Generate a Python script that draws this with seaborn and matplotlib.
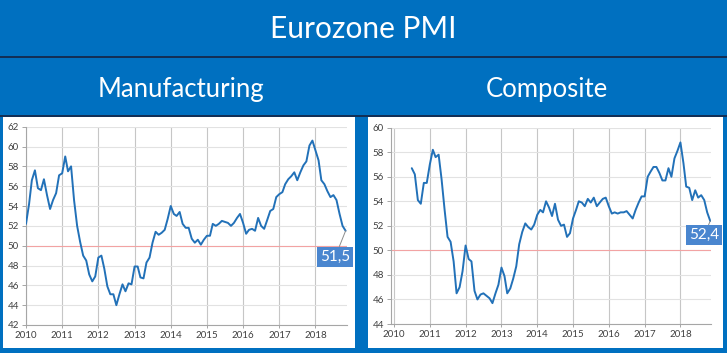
import pandas as pd
import numpy as np
import matplotlib
matplotlib.use("Agg")
import matplotlib.pyplot as plt
import matplotlib.dates as mdates
from matplotlib.patches import Rectangle
from matplotlib.lines import Line2D
import seaborn as sns

#--------------------------------------------------------
# Data (monthly PMI readings)
#--------------------------------------------------------

manuf_start = "2010-01-01"
manufacturing = [
    52.2, 54.2, 56.6, 57.6, 55.8, 55.6, 56.7, 55.1, 53.7, 54.6, 55.3, 57.1,   # 2010
    57.3, 59.0, 57.5, 58.0, 54.6, 52.0, 50.4, 49.0, 48.5, 47.1, 46.4, 46.9,   # 2011
    48.8, 49.0, 47.7, 45.9, 45.1, 45.1, 44.0, 45.1, 46.1, 45.4, 46.2, 46.1,   # 2012
    47.9, 47.9, 46.8, 46.7, 48.3, 48.8, 50.3, 51.4, 51.1, 51.3, 51.6, 52.7,   # 2013
    54.0, 53.2, 53.0, 53.4, 52.2, 51.8, 51.8, 50.7, 50.3, 50.6, 50.1, 50.6,   # 2014
    51.0, 51.0, 52.2, 52.0, 52.2, 52.5, 52.4, 52.3, 52.0, 52.3, 52.8, 53.2,   # 2015
    52.3, 51.2, 51.6, 51.7, 51.5, 52.8, 52.0, 51.7, 52.6, 53.5, 53.7, 54.9,   # 2016
    55.2, 55.4, 56.2, 56.7, 57.0, 57.4, 56.6, 57.4, 58.1, 58.5, 60.1, 60.6,   # 2017
    59.6, 58.6, 56.6, 56.2, 55.5, 54.9, 55.1, 54.6, 53.2, 52.0, 51.5,         # 2018
]

comp_start = "2010-07-01"
composite = [
    56.7, 56.2, 54.1, 53.8, 55.5, 55.5,                                       # 2010 H2
    57.0, 58.2, 57.6, 57.8, 55.8, 53.3, 51.1, 50.7, 49.1, 46.5, 47.0, 48.3,   # 2011
    50.4, 49.3, 49.1, 46.7, 46.0, 46.4, 46.5, 46.3, 46.1, 45.7, 46.5, 47.2,   # 2012
    48.6, 47.9, 46.5, 46.9, 47.7, 48.7, 50.5, 51.5, 52.2, 51.9, 51.7, 52.1,   # 2013
    52.9, 53.3, 53.1, 54.0, 53.5, 52.8, 53.8, 52.5, 52.0, 52.1, 51.1, 51.4,   # 2014
    52.6, 53.3, 54.0, 53.9, 53.6, 54.2, 53.9, 54.3, 53.6, 53.9, 54.2, 54.3,   # 2015
    53.6, 53.0, 53.1, 53.0, 53.1, 53.1, 53.2, 52.9, 52.6, 53.3, 53.9, 54.4,   # 2016
    54.4, 56.0, 56.4, 56.8, 56.8, 56.3, 55.7, 55.7, 56.7, 56.0, 57.5, 58.1,   # 2017
    58.8, 57.1, 55.2, 55.1, 54.1, 54.9, 54.3, 54.5, 54.1, 53.1, 52.4,         # 2018
]

title = "Eurozone PMI"
panel_titles = ["Manufacturing", "Composite"]
last_labels = ["51,5", "52,4"]

df_m = pd.DataFrame({"date": pd.date_range(manuf_start, periods=len(manufacturing), freq="MS"),
                     "pmi": manufacturing})
df_c = pd.DataFrame({"date": pd.date_range(comp_start, periods=len(composite), freq="MS"),
                     "pmi": composite})

#--------------------------------------------------------
# Style
#--------------------------------------------------------

sns.set_theme(style="white")
plt.rcParams["font.family"] = ["Lato", "DejaVu Sans"]

BG = "#0070C0"
LINE = "#2271B8"
W, H = 727, 353

fig = plt.figure(figsize=(W / 100, H / 100), dpi=100, facecolor=BG)

fig.text(0.5, 1 - 29 / H, title, ha="center", va="center", color="white", fontsize=21.5)
fig.add_artist(Line2D([0, 1], [1 - 57 / H] * 2, color="#14284B", lw=1.3))
fig.text(181 / W, 1 - 89 / H, panel_titles[0], ha="center", va="center", color="white", fontsize=18.5)
fig.text(547 / W, 1 - 89 / H, panel_titles[1], ha="center", va="center", color="white", fontsize=18.5)
fig.add_artist(Line2D([0, 1], [1 - 116 / H] * 2, color="#14284B", lw=1.3))

# white panels
for x0, x1 in [(3, 355), (368, 723)]:
    fig.add_artist(Rectangle((x0 / W, 1 - 348 / H), (x1 - x0) / W, (348 - 117) / H,
                             transform=fig.transFigure, facecolor="white", edgecolor="none", zorder=0))

ax1 = fig.add_axes([26 / W, 1 - 325 / H, (346.7 - 26) / W, (325 - 126.7) / H])
ax2 = fig.add_axes([391 / W, 1 - 324 / H, (711.3 - 391) / W, (324 - 127.7) / H])


def style_axis(ax, df, ymin, ymax, xstart, xend, label, label_pos):
    ax.set_facecolor("white")
    ax.axhline(50, color="#F2A3A3", lw=0.8, zorder=1)
    sns.lineplot(data=df, x="date", y="pmi", ax=ax, color=LINE, linewidth=1.4, zorder=3)
    ax.set_xlim(pd.Timestamp(xstart), pd.Timestamp(xend))
    ax.set_ylim(ymin, ymax)
    ax.set_yticks(np.arange(ymin, ymax + 1, 2))
    ax.xaxis.set_major_locator(mdates.YearLocator())
    ax.xaxis.set_major_formatter(mdates.DateFormatter("%Y"))
    ax.set_xlabel("")
    ax.set_ylabel("")
    ax.grid(axis="y", color="#E2E2E2", lw=0.8)
    ax.grid(axis="x", color="#C6C6C6", lw=0.8)
    ax.set_axisbelow(True)
    for s in ["top", "right"]:
        ax.spines[s].set_visible(False)
    for s in ["left", "bottom"]:
        ax.spines[s].set_color("#A6A6A6")
        ax.spines[s].set_linewidth(0.8)
    ax.tick_params(axis="y", left=True, length=3, width=0.7, color="#A6A6A6",
                   labelsize=7, labelcolor="#404040", pad=2)
    ax.tick_params(axis="x", bottom=True, length=2, width=0.7, color="#A6A6A6",
                   labelsize=7, labelcolor="#404040", pad=2)
    last = df.iloc[-1]
    ax.annotate(label, xy=(mdates.date2num(last["date"]), last["pmi"]),
                xytext=(mdates.date2num(pd.Timestamp(label_pos[0])), label_pos[1]),
                ha="center", va="center", fontsize=11, color="white", zorder=5,
                bbox=dict(boxstyle="square,pad=0.2", fc="#4A86CF", ec="none"),
                arrowprops=dict(arrowstyle="-", color="#8C8C8C", lw=0.7, shrinkA=0, shrinkB=0))


style_axis(ax1, df_m, 42, 62, "2010-01-01", "2018-11-12", last_labels[0], ("2018-07-20", 48.9))
style_axis(ax2, df_c, 44, 60, "2009-12-01", "2018-11-12", last_labels[1], ("2018-09-01", 51.25))

fig.savefig("out.png", dpi=100, facecolor=BG)
